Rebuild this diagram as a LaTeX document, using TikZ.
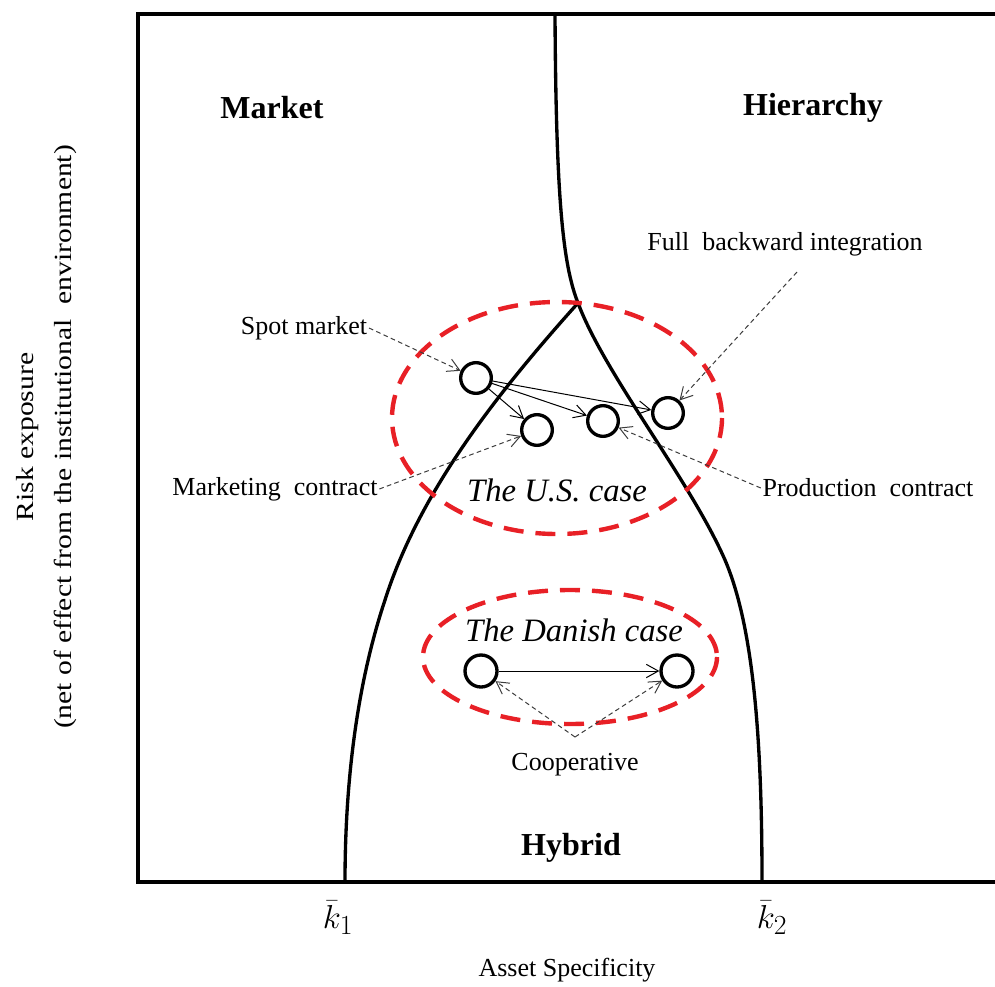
\documentclass[tikz,border=0pt]{standalone}
\usepackage{fontspec}
\setmainfont{Liberation Serif}
\newfontfamily\widefont[FakeStretch=1.2]{Liberation Serif}
\usetikzlibrary{arrows.meta}
\definecolor{caseRed}{RGB}{232,32,38}
\definecolor{ptrGray}{RGB}{60,60,60}

\tikzset{every picture/.style={line width=0.75pt}}
\tikzset{
  firm/.style={circle,draw,line width=2.5pt,minimum size=23pt,inner sep=0pt},
  lbl/.style={inner sep=1pt,font=\fontsize{19.5}{23}\selectfont},
  region/.style={inner sep=1pt,font=\fontsize{24}{28}\selectfont\bfseries},
  casename/.style={inner sep=1pt,font=\fontsize{24.5}{29}\selectfont\itshape},
  ptr/.style={ptrGray,dash pattern=on 3.5pt off 2.5pt,-{Straight Barb[length=9pt,width=10pt]}},
  move/.style={-{Straight Barb[length=9pt,width=10pt]}},
  zone/.style={caseRed,line width=3.3pt,dash pattern=on 15pt off 9pt},
  bound/.style={line width=2.5pt}
}

\begin{document}
\begin{tikzpicture}[x=0.75pt,y=0.75pt,yscale=-1,xscale=1]
\useasboundingbox (0,0) rectangle (995,987);

% frame
\draw [line width=3pt] (995,14) -- (138,14) -- (138,882) -- (995,882);

% boundaries between governance forms
\coordinate (apex) at (578,303);
\draw [bound] (555,14) .. controls (556,200) and (563,265) .. (apex) .. controls (605,375) and (690,480) .. (725,560) .. controls (755,630) and (762,750) .. (762,882);
\draw [bound] (apex) .. controls (500,390) and (420,490) .. (385,600) .. controls (355,690) and (345,790) .. (345,882);

% cases
\draw [zone] (557,418) ellipse [x radius=165, y radius=116];
\draw [zone] (570,657) ellipse [x radius=147, y radius=67];

\node [region] (market) at (272,108) {Market};
\node [region] (hier) at (813,108) {Hierarchy};
\node [region] (hybrid) at (571,848) {Hybrid};
\node [casename] (us) at (557,490) {The U.S. case};
\node [casename] (dk) at (574,630) {The Danish case};

% U.S. arrangements
\node [firm] (spot) at (476,378) {};
\node [firm] (mkt) at (537,430) {};
\node [firm] (prod) at (603,421) {};
\node [firm] (full) at (668,413) {};
\draw [move] (spot) -- (mkt);
\draw [move] (spot) -- (prod);
\draw [move] (spot) -- (full);

\node [lbl] (spotlbl) at (304,328) {Spot market};
\node [lbl] (mktlbl) at (275,489) {Marketing\ \ contract};
\node [lbl] (prodlbl) at (868,488) {Production\ \ contract};
\node [lbl] (fulllbl) at (785,244) {Full\ \ backward integration};
\draw [ptr] (spotlbl.east) -- (spot);
\draw [ptr] (mktlbl.east) -- (mkt);
\draw [ptr] (prodlbl.west) -- (prod);
\draw [ptr] (797,272) -- (full);

% Danish arrangement
\node [firm,minimum size=24pt] (coopA) at (481,671) {};
\node [firm,minimum size=24pt] (coopB) at (677,671) {};
\draw [move] (coopA) -- (coopB);
\node [lbl] (cooplbl) at (575,765) {Cooperative};
\coordinate (coopfork) at (575,737);
\draw [ptr] (coopfork) -- (coopA);
\draw [ptr] (coopfork) -- (coopB);

% axes
\node [inner sep=1pt,font=\fontsize{28}{32}\selectfont] (k1) at (338,918) {$\bar{k}_1$};
\node [inner sep=1pt,font=\fontsize{28}{32}\selectfont] (k2) at (772,918) {$\bar{k}_2$};
\node [lbl] (xlab) at (567,970) {Asset Specificity};
\node [rotate=90,align=center,inner sep=1pt,font=\fontsize{18.5}{28.5}\selectfont\widefont] (ylab) at (47,437) {Risk exposure\\(net of effect from the institutional\ \ environment)};
\end{tikzpicture}
\end{document}
